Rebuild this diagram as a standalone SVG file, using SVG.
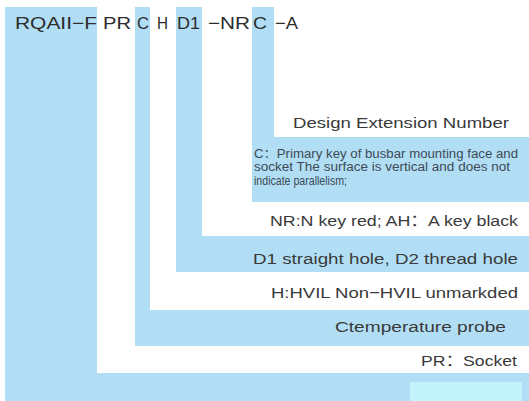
<svg xmlns="http://www.w3.org/2000/svg" width="529" height="401" viewBox="0 0 529 401">
<style>
.band{fill:#b1def5;}
.t{font-family:"Liberation Sans","Noto Sans CJK SC",Arial,sans-serif;fill:#3a3a3a;}
.title{font-size:17px;fill:#2c2c2c;}
.lab{font-size:15.5px;}
.small{font-size:12px;fill:#3d4a55;}
</style>
<rect width="529" height="401" fill="#ffffff"/>
<g id="node-socket-base">
<path class="band" d="M5 7H97V373H529V401H5Z"/>
<rect x="410" y="382" width="112" height="19" fill="#c3f4fb"/>
</g>
<g id="node-pr">
<text class="t lab" x="421" y="366" textLength="96" lengthAdjust="spacingAndGlyphs">PR：Socket</text>
</g>
<g id="node-c-probe">
<path class="band" d="M135 7H150V310H529V346H135Z"/>
<text class="t lab" x="335" y="332" textLength="171" lengthAdjust="spacingAndGlyphs">Ctemperature probe</text>
</g>
<g id="node-h">
<text class="t lab" x="271" y="298" textLength="247" lengthAdjust="spacingAndGlyphs">H:HVIL Non−HVIL unmarkded</text>
</g>
<g id="node-d1">
<path class="band" d="M176 7H202V236H529V272H176Z"/>
<text class="t lab" x="253" y="264" textLength="265" lengthAdjust="spacingAndGlyphs">D1 straight hole, D2 thread hole</text>
</g>
<g id="node-nr">
<text class="t lab" x="270" y="226" textLength="248" lengthAdjust="spacingAndGlyphs">NR:N key red; AH：A key black</text>
</g>
<g id="node-c-key">
<path class="band" d="M252 7H274V137H529V202H252Z"/>
<text class="t small" x="254" y="157.5" textLength="264" lengthAdjust="spacingAndGlyphs">C：Primary key of busbar mounting face and</text>
<text class="t small" x="254" y="171" textLength="256" lengthAdjust="spacingAndGlyphs">socket The surface is vertical and does not</text>
<text class="t small" x="254" y="184.5" textLength="93" lengthAdjust="spacingAndGlyphs">indicate parallelism;</text>
</g>
<g id="node-a">
<text class="t lab" x="293" y="128" textLength="216" lengthAdjust="spacingAndGlyphs">Design Extension Number</text>
</g>
<g id="title">
<text class="t title" x="15" y="29" textLength="82" lengthAdjust="spacingAndGlyphs">RQAII−F</text>
<text class="t title" x="103" y="29" textLength="28" lengthAdjust="spacingAndGlyphs">PR</text>
<text class="t title" x="137" y="29" textLength="12" lengthAdjust="spacingAndGlyphs">C</text>
<text class="t title" x="157" y="29" textLength="11" lengthAdjust="spacingAndGlyphs">H</text>
<text class="t title" x="177" y="29" textLength="23" lengthAdjust="spacingAndGlyphs">D1</text>
<text class="t title" x="208" y="29" textLength="42" lengthAdjust="spacingAndGlyphs">−NR</text>
<text class="t title" x="253" y="29" textLength="14" lengthAdjust="spacingAndGlyphs">C</text>
<text class="t title" x="275" y="29" textLength="23" lengthAdjust="spacingAndGlyphs">−A</text>
</g>
<g id="connectors"></g>
</svg>
